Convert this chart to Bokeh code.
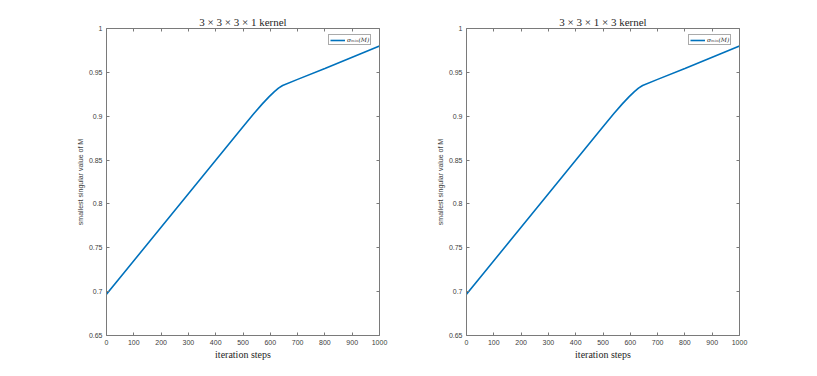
from bokeh.plotting import figure
from bokeh.layouts import row
from bokeh.models import (LinearAxis, FixedTicker, CustomJSTickFormatter, Range1d,
                          Legend, LegendItem)
from bokeh.embed import file_html
from bokeh.resources import INLINE

# ---- data ----
steps = [0, 50, 100, 150, 200, 250, 300, 350, 400, 450, 500, 540, 570, 595,
         615, 630, 645, 700, 800, 900, 1000]
sigma_3331 = [0.6970, 0.7161, 0.7352, 0.7543, 0.7734, 0.7925, 0.8116, 0.8307,
              0.8498, 0.8689, 0.8880, 0.9030, 0.9138, 0.9220, 0.9280, 0.9320,
              0.9350, 0.9420, 0.9545, 0.9672, 0.9800]
sigma_3313 = [0.6970, 0.7161, 0.7352, 0.7543, 0.7734, 0.7925, 0.8116, 0.8307,
              0.8498, 0.8689, 0.8880, 0.9030, 0.9138, 0.9220, 0.9280, 0.9320,
              0.9350, 0.9420, 0.9545, 0.9672, 0.9800]
titles = ["3 × 3 × 3 × 1 kernel", "3 × 3 × 1 × 3 kernel"]
x_ticks = [0, 100, 200, 300, 400, 500, 600, 700, 800, 900, 1000]
y_ticks = [0.65, 0.7, 0.75, 0.8, 0.85, 0.9, 0.95, 1.0]
legend_label = "σₘᵢₙ(M)"
x_label = "iteration steps"
y_label = "smallest singular value of M"

AX_COLOR = "#7a7a7a"
LBL_COLOR = "#404040"
LINE_COLOR = "#0072BD"
SANS = "Liberation Sans"
SERIF = "Liberation Serif"

fmt = CustomJSTickFormatter(code="return String(Math.round(tick*100)/100);")


def style_axis(ax, ticks, show_labels):
    ax.ticker = FixedTicker(ticks=ticks)
    ax.formatter = fmt
    ax.axis_line_color = AX_COLOR
    ax.axis_line_width = 1
    ax.major_tick_line_color = AX_COLOR
    ax.major_tick_in = 3
    ax.major_tick_out = 0
    ax.minor_tick_line_color = None
    ax.major_label_text_font = SANS
    ax.major_label_text_font_size = "7px"
    ax.major_label_standoff = 4
    if show_labels:
        ax.major_label_text_color = LBL_COLOR
    else:
        ax.major_label_text_color = None


def make_panel(title, ys, width, border_left, border_right):
    p = figure(width=width, height=366, output_backend="svg",
               toolbar_location=None,
               x_range=Range1d(0, 1000), y_range=Range1d(0.65, 1.0),
               min_border_left=border_left, min_border_right=border_right,
               min_border_top=28, min_border_bottom=31,
               x_axis_location=None, y_axis_location=None)
    p.grid.visible = False
    p.outline_line_color = None
    p.background_fill_color = "white"
    p.border_fill_color = "white"

    bottom = LinearAxis(axis_label=x_label)
    style_axis(bottom, x_ticks, True)
    bottom.axis_label_text_font = SERIF
    bottom.axis_label_text_font_style = "normal"
    bottom.axis_label_text_font_size = "10px"
    bottom.axis_label_text_color = "#262626"
    bottom.axis_label_standoff = 1
    p.add_layout(bottom, "below")

    left = LinearAxis(axis_label=y_label)
    style_axis(left, y_ticks, True)
    left.axis_label_text_font = SANS
    left.axis_label_text_font_style = "normal"
    left.axis_label_text_font_size = "7px"
    left.axis_label_text_color = LBL_COLOR
    left.axis_label_standoff = 2
    p.add_layout(left, "left")

    top = LinearAxis()
    style_axis(top, x_ticks, False)
    p.add_layout(top, "above")

    right = LinearAxis()
    style_axis(right, y_ticks, False)
    p.add_layout(right, "right")

    p.title.text = title
    p.title.align = "center"
    p.title.text_font = SERIF
    p.title.text_font_style = "normal"
    p.title.text_font_size = "11px"
    p.title.text_color = "#262626"
    p.title.standoff = 2
    p.title_location = "above"

    r = p.line(steps, ys, line_color=LINE_COLOR, line_width=1.6)

    leg = Legend(items=[LegendItem(label=legend_label, renderers=[r])],
                 location=(222, 290), margin=0, padding=1, spacing=0,
                 label_standoff=2, glyph_width=15, glyph_height=6,
                 label_height=6, label_text_font="DejaVu Serif",
                 label_text_font_style="italic", label_text_font_size="6px",
                 label_text_color="#262626",
                 border_line_color="#555555", border_line_width=0.6,
                 background_fill_color="white", background_fill_alpha=1)
    p.add_layout(leg, "center")
    return p


p1 = make_panel(titles[0], sigma_3331, 422, 106, 43)
p2 = make_panel(titles[1], sigma_3313, 337, 44, 20)
layout = row(p1, p2)

open("out.html", "w").write(file_html(layout, INLINE))
